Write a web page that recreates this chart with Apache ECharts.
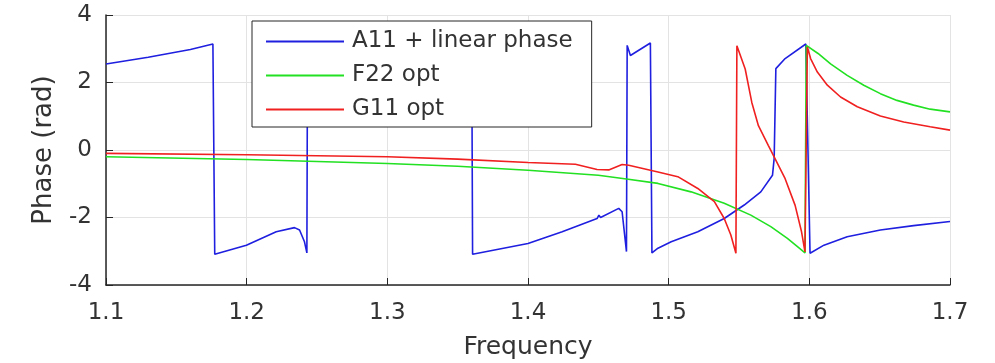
<!DOCTYPE html>
<html>
<head>
<meta charset="utf-8">
<script src="https://cdn.jsdelivr.net/npm/echarts@6/dist/echarts.min.js"></script>
<style>html,body{margin:0;padding:0;background:#fff}#c{width:995px;height:363px}</style>
</head>
<body>
<div id="c"></div>
<script>
const xTicks = [1.1, 1.2, 1.3, 1.4, 1.5, 1.6, 1.7];
const yTicks = [-4, -2, 0, 2, 4];
const seriesNames = ['A11 + linear phase', 'F22 opt', 'G11 opt'];

const a11Freq = [1.100,1.130,1.160,1.176,1.1773,1.1998,1.221,1.234,1.2376,1.2411,1.2428,1.2432,1.300,1.360,1.3606,1.400,1.4243,1.4491,1.4504,1.4516,1.4645,1.4669,1.470,1.4705,1.4728,1.487,1.4881,1.4924,1.5018,1.5207,1.5395,1.5537,1.5655,1.5738,1.5750,1.5762,1.5828,1.5975,1.6005,1.6104,1.6269,1.6505,1.6741,1.700];
const a11Phase = [2.55,2.75,2.98,3.14,-3.09,-2.82,-2.42,-2.30,-2.37,-2.72,-3.05,2.2,2.6,3.14,-3.09,-2.77,-2.42,-2.03,-1.93,-2.00,-1.73,-1.83,-3.01,3.10,2.80,3.17,-3.05,-2.91,-2.72,-2.42,-2.03,-1.63,-1.24,-0.75,-0.25,2.41,2.71,3.14,-3.06,-2.82,-2.57,-2.37,-2.24,-2.12];

const f22Freq = [1.100,1.200,1.300,1.350,1.400,1.450,1.470,1.4924,1.5159,1.5395,1.5584,1.5726,1.5844,1.5920,1.5969,1.5978,1.6062,1.6151,1.6269,1.6387,1.6505,1.6623,1.6741,1.6859,1.700];
const f22Phase = [-0.20,-0.28,-0.40,-0.48,-0.60,-0.75,-0.86,-0.99,-1.24,-1.58,-1.93,-2.27,-2.62,-2.88,-3.05,3.10,2.86,2.55,2.21,1.92,1.67,1.47,1.33,1.21,1.13];

const g11Freq = [1.100,1.200,1.300,1.350,1.400,1.4337,1.4491,1.4574,1.4669,1.4716,1.4924,1.5065,1.5207,1.5325,1.5395,1.5442,1.5478,1.5485,1.5544,1.5591,1.5638,1.5709,1.5757,1.5828,1.5899,1.5945,1.5969,1.5986,1.6009,1.6057,1.6128,1.6222,1.6341,1.6505,1.6671,1.6859,1.700];
const g11Phase = [-0.10,-0.14,-0.20,-0.27,-0.37,-0.42,-0.58,-0.59,-0.43,-0.45,-0.65,-0.79,-1.14,-1.53,-2.03,-2.52,-3.06,3.09,2.40,1.41,0.72,0.13,-0.26,-0.85,-1.64,-2.43,-3.02,3.05,2.71,2.31,1.92,1.57,1.28,1.01,0.83,0.69,0.59];

const zip = (xs, ys) => xs.map((x, i) => [x, ys[i]]);
const colors = ['#1f1fe0', '#22e022', '#f02020'];
const txt = '#333333';
const font = 'DejaVu Sans';

const chart = echarts.init(document.getElementById('c'), null, {renderer: 'canvas'});
chart.setOption({
  animation: false,
  backgroundColor: '#ffffff',
  grid: {left: 106, right: 45, top: 15, bottom: 78, containLabel: false, outerBoundsMode: 'none'},
  legend: {
    orient: 'vertical',
    left: 252, top: 21,
    backgroundColor: '#ffffff',
    borderColor: '#262626', borderWidth: 1, borderRadius: 0,
    padding: [9, 19, 6, 14],
    icon: 'rect',
    itemWidth: 78, itemHeight: 2, itemGap: 11,
    textStyle: {fontFamily: font, fontSize: 23, color: txt, lineHeight: 22, padding: [0,0,0,3]},
    data: seriesNames,
    z: 10
  },
  xAxis: {
    type: 'value', min: 1.1, max: 1.7, interval: 0.1,
    name: 'Frequency', nameLocation: 'middle', nameGap: 50,
    nameTextStyle: {fontFamily: font, fontSize: 25, color: txt},
    axisLine: {show: true, onZero: false, lineStyle: {color: '#262626', width: 1.5}},
    axisTick: {show: true, inside: true, length: 7, lineStyle: {color: '#262626'}},
    axisLabel: {fontFamily: font, fontSize: 23, color: txt, margin: 17,
      formatter: v => { const t = xTicks.find(k => Math.abs(k - v) < 1e-6); return t === undefined ? '' : t.toFixed(1); }},
    splitLine: {show: true, lineStyle: {color: '#e3e3e3', width: 1}}
  },
  yAxis: {
    type: 'value', min: -4, max: 4, interval: 2,
    name: 'Phase (rad)', nameLocation: 'middle', nameGap: 49,
    nameTextStyle: {fontFamily: font, fontSize: 26, color: txt},
    axisLine: {show: true, onZero: false, lineStyle: {color: '#262626', width: 1.5}},
    axisTick: {show: true, inside: true, length: 7, lineStyle: {color: '#262626'}},
    axisLabel: {fontFamily: font, fontSize: 23, color: txt, margin: 14,
      formatter: v => { const t = yTicks.find(k => Math.abs(k - v) < 1e-6); return t === undefined ? '' : String(t); }},
    splitLine: {show: true, lineStyle: {color: '#e3e3e3', width: 1}}
  },
  series: [
    {name: seriesNames[0], type: 'line', data: zip(a11Freq, a11Phase), symbol: 'none', lineStyle: {color: colors[0], width: 1.6}, itemStyle: {color: colors[0]}, z: 2},
    {name: seriesNames[1], type: 'line', data: zip(f22Freq, f22Phase), symbol: 'none', lineStyle: {color: colors[1], width: 1.6}, itemStyle: {color: colors[1]}, z: 3},
    {name: seriesNames[2], type: 'line', data: zip(g11Freq, g11Phase), symbol: 'none', lineStyle: {color: colors[2], width: 1.6}, itemStyle: {color: colors[2]}, z: 4}
  ]
});
</script>
</body>
</html>
